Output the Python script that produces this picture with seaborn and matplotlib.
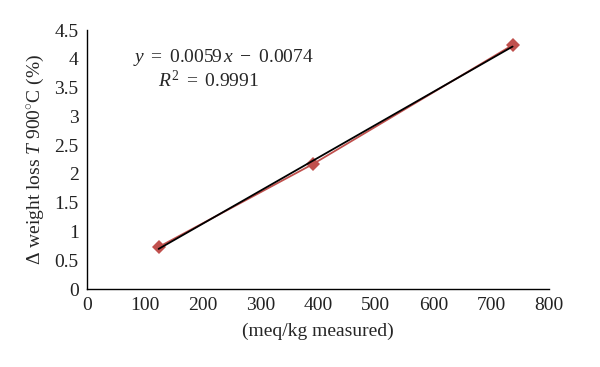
import matplotlib
matplotlib.use("Agg")
import matplotlib.pyplot as plt
import seaborn as sns
import pandas as pd

# data
meq_measured = [124, 391, 737]
weight_loss = [0.73, 2.17, 4.24]
x_ticks = [0, 100, 200, 300, 400, 500, 600, 700, 800]
y_ticks = [0, 0.5, 1, 1.5, 2, 2.5, 3, 3.5, 4, 4.5]
y_tick_labels = ["0", "0.5", "1", "1.5", "2", "2.5", "3", "3.5", "4", "4.5"]

sns.set_style("white")
plt.rcParams["font.family"] = ["Liberation Serif", "DejaVu Serif"]
plt.rcParams["mathtext.fontset"] = "custom"
plt.rcParams["mathtext.rm"] = "Liberation Serif"
plt.rcParams["mathtext.it"] = "Liberation Serif:italic"

df = pd.DataFrame({"meq": meq_measured, "loss": weight_loss})

fig = plt.figure(figsize=(6, 3.67), dpi=100)
ax = fig.add_axes([0.145, 0.2125, 0.77, 0.7055])

# measured series
sns.lineplot(data=df, x="meq", y="loss", ax=ax, color="#C0504D", linewidth=1.3,
             marker="D", markersize=7, markeredgewidth=0)
# linear trend
sns.regplot(data=df, x="meq", y="loss", ax=ax, ci=None, scatter=False,
            line_kws={"color": "black", "linewidth": 1.3})

ax.set_xlim(0, 800)
ax.set_ylim(0, 4.5)
ax.set_xticks(x_ticks)
ax.set_yticks(y_ticks)
ax.set_yticklabels(y_tick_labels)
ax.tick_params(axis="both", length=0, labelsize=14, colors="#222222", pad=6)

ax.set_xlabel("(meq/kg measured)", fontsize=14, labelpad=6)
ax.set_ylabel(r"$\Delta$ weight loss $T$ 900$^{\circ}$C (%)", fontsize=14, labelpad=6)

for side in ["top", "right"]:
    ax.spines[side].set_visible(False)
for side in ["left", "bottom"]:
    ax.spines[side].set_color("black")
    ax.spines[side].set_linewidth(1.0)

ax.text(0.10, 0.896, r"$y\ =\ 0.0059\,x\ -\ 0.0074$", transform=ax.transAxes,
        fontsize=14, ha="left", va="center")
ax.text(0.154, 0.807, r"$R^2\ =\ 0.9991$", transform=ax.transAxes,
        fontsize=14, ha="left", va="center")

fig.savefig("out.png", dpi=100)
plt.close(fig)
